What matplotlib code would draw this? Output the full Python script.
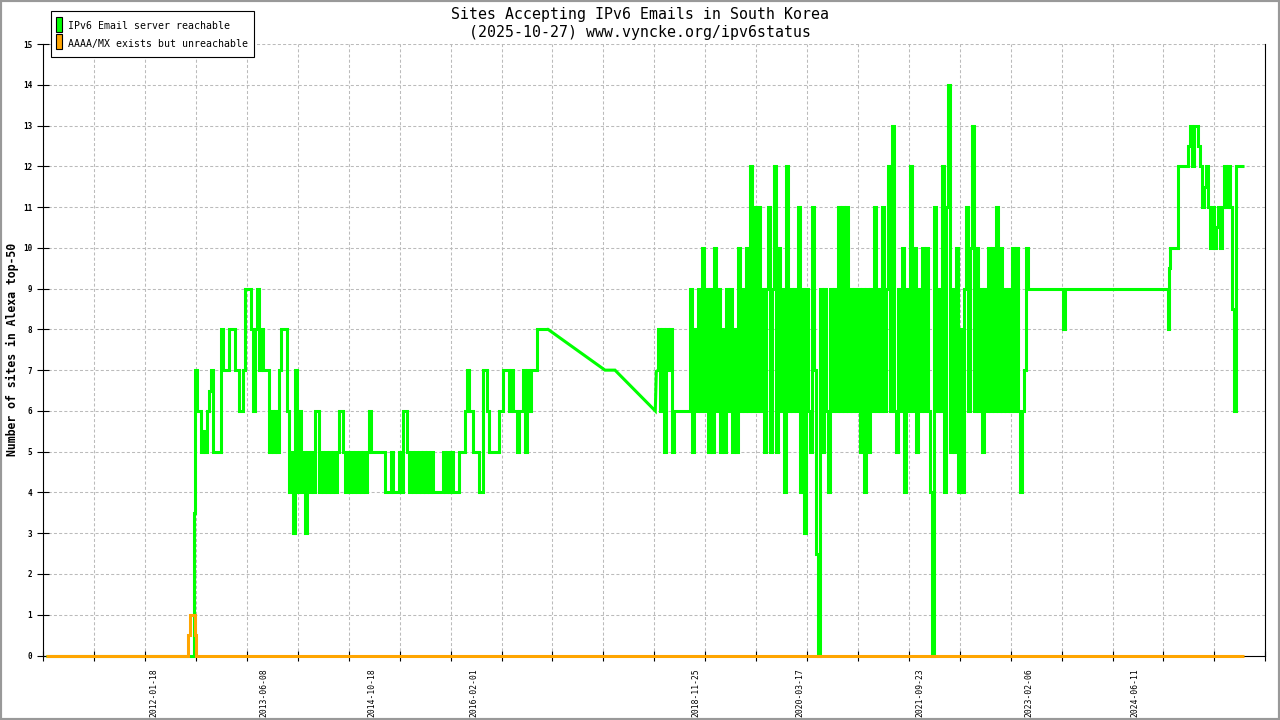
import matplotlib
matplotlib.use("Agg")
import matplotlib.pyplot as plt
import matplotlib.dates as mdates
from matplotlib.patches import Rectangle
import numpy as np
import pandas as pd

plt.rcParams['font.family'] = ['DejaVu Sans Mono']

# ---------------- data ----------------
title_lines = ["Sites Accepting IPv6 Emails in South Korea",
               "(2025-10-27) www.vyncke.org/ipv6status"]
y_label = "Number of sites in Alexa top-50"
legend_labels = ["IPv6 Email server reachable", "AAAA/MX exists but unreachable"]
x_label_dates = ["2012-01-18", "2013-06-08", "2014-10-18", "2016-02-01",
                 "2018-11-25", "2020-03-17", "2021-09-23", "2023-02-06", "2024-06-11"]
y_ticks = list(range(0, 16))
x_range = ["2010-08-24", "2026-02-02"]

green_start_dates = ["2010-09-05", "2012-07-17", "2012-07-19", "2012-07-23"]
green_start_values = [0, 0, 3.5, 7]

green_2012_span = ["2012-08-02", "2017-01-04"]
green_2012_values = [
    6, 6, 5, 5.5, 5, 6, 6.5, 7, 5, 5,
    5, 5, 8, 7, 7, 7, 8, 8, 8, 7,
    7, 6, 6, 7, 9, 9, 9, 8, 6, 8,
    9, 7, 8, 7, 7, 7, 5, 6, 5, 6,
    5, 7, 8, 8, 8, 6, 4, 5, 3, 7,
    4, 6, 4, 5, 3, 5, 4, 5, 4, 6,
    6, 4, 5, 4, 5, 4, 5, 4, 5, 4,
    5, 6, 6, 5, 4, 5, 4, 5, 4, 5,
    4, 5, 4, 5, 4, 5, 6, 5, 5, 5,
    5, 5, 5, 5, 4, 4, 4, 5, 4, 4,
    4, 5, 4, 6, 6, 5, 4, 5, 4, 5,
    4, 5, 4, 5, 4, 5, 4, 5, 4, 4,
    4, 4, 4, 5, 4, 5, 4, 5, 4, 4,
    4, 5, 5, 5, 6, 7, 6, 6, 5, 5,
    5, 4, 4, 7, 7, 6, 5, 5, 5, 5,
    5, 6, 6, 7, 7, 7, 6, 7, 6, 6,
    5, 6, 6, 7, 5, 7, 6, 7, 7, 7,
    8, 8, 8, 8, 8, 8,
]

green_mid_dates = ["2017-01-09", "2017-09-29", "2017-11-14", "2018-05-19"]
green_mid_values = [8, 7, 7, 6]

green_2018_span = ["2018-05-24", "2023-02-03"]
green_2018_values = [
    7, 8, 6, 8, 5, 8, 7, 8, 5, 6,
    6, 6, 6, 6, 6, 6, 6, 9, 5, 8,
    6, 9, 6, 10, 6, 9, 5, 9, 5, 10,
    6, 9, 5, 8, 5, 9, 6, 9, 5, 8,
    5, 10, 6, 9, 6, 10, 6, 12, 6, 11,
    6, 11, 6, 9, 5, 9, 11, 5, 9, 12,
    5, 10, 6, 9, 4, 12, 6, 9, 6, 9,
    6, 11, 4, 9, 3, 9, 6, 5, 11, 7,
    2.5, 0, 9, 5, 9, 6, 4, 9, 6, 9,
    6, 11, 6, 11, 6, 11, 6, 9, 6, 9,
    6, 9, 5, 9, 4, 9, 5, 9, 6, 11,
    6, 9, 6, 11, 6, 9, 12, 6, 13, 6,
    5, 9, 6, 10, 4, 9, 6, 12, 6, 10,
    5, 9, 6, 10, 6, 10, 6, 4, 0, 11,
    6, 9, 6, 12, 4, 11, 14, 5, 9, 5,
    10, 4, 8, 4, 9, 11, 6, 10, 13, 6,
    10, 6, 9, 5, 9, 6, 10, 6, 10, 6,
    11, 6, 10, 6, 9, 6, 9, 6, 10, 6,
    10, 6, 4, 6, 7, 10, 9,
]

green_2023_dates = ["2023-07-05", "2023-07-14", "2023-07-24", "2024-11-06",
                    "2024-11-11", "2024-11-15", "2024-11-20", "2024-12-22"]
green_2023_values = [9, 8, 9, 9, 8, 9.5, 10, 10]

green_2025_span = ["2024-12-27", "2025-10-27"]
green_2025_values = [
    12, 12, 12, 12, 12, 12.5, 13, 12, 13, 13,
    12.5, 12, 11, 11.5, 12, 11, 10, 11, 10, 10.5,
    11, 10, 11, 12, 11, 12, 11, 8.5, 6, 12,
    12, 12, 12, 12,
]

orange_dates = ["2010-09-05", "2012-06-20", "2012-06-23", "2012-06-29",
                "2012-07-19", "2012-07-23", "2012-07-28", "2025-10-27"]
orange_values = [0, 0, 0.5, 1, 1, 0.5, 0, 0]


# ---------------- build series ----------------
def to_x(idx):
    return np.asarray(pd.DatetimeIndex(idx).to_pydatetime())


def span(s, vals):
    return pd.date_range(s[0], s[1], periods=len(vals))


segA_x = np.concatenate([to_x(pd.to_datetime(green_start_dates)),
                         to_x(span(green_2012_span, green_2012_values))])
segA_y = np.concatenate([green_start_values, green_2012_values]).astype(float)

segB_x = np.concatenate([segA_x[-1:], to_x(pd.to_datetime(green_mid_dates)),
                         to_x(span(green_2018_span, green_2018_values))[:1]])
segB_y = np.concatenate([segA_y[-1:], green_mid_values, green_2018_values[:1]]).astype(float)

segC_x = np.concatenate([to_x(span(green_2018_span, green_2018_values)),
                         to_x(pd.to_datetime(green_2023_dates)),
                         to_x(span(green_2025_span, green_2025_values))])
segC_y = np.concatenate([green_2018_values, green_2023_values, green_2025_values]).astype(float)

orange_x = to_x(pd.to_datetime(orange_dates))

GREEN = "#00FF00"
ORANGE = "#FFA500"

# ---------------- figure ----------------
W, H = 1280, 720
fig = plt.figure(figsize=(W / 100, H / 100), dpi=100)
fig.patch.set_facecolor("white")
ax = fig.add_axes([43.3 / W, (H - 655.5) / H, (1265.3 - 43.3) / W, (655.5 - 44) / H])

line_kw = dict(lw=2.2, solid_joinstyle="miter", solid_capstyle="butt", clip_on=False)
ax.plot(segA_x, segA_y, color=GREEN, drawstyle="steps-post", zorder=3, **line_kw)
ax.plot(segB_x, segB_y, color=GREEN, zorder=3, **line_kw)
ax.plot(segC_x, segC_y, color=GREEN, drawstyle="steps-post", zorder=3, **line_kw)
ax.plot(orange_x, orange_values, color=ORANGE, drawstyle="steps-post", zorder=4, **line_kw)

x0 = mdates.date2num(pd.Timestamp(x_range[0]))
x1 = mdates.date2num(pd.Timestamp(x_range[1]))
ax.set_xlim(x0, x1)
ax.set_ylim(0, 15)

ax.set_xticks(np.linspace(x0, x1, 25))
ax.set_xticks(mdates.date2num(pd.to_datetime(x_label_dates)), minor=True)
ax.set_xticklabels(x_label_dates, minor=True)
ax.tick_params(axis="x", which="major", direction="inout", length=7, width=0.8,
               labelbottom=False, color="black")
ax.tick_params(axis="x", which="minor", length=0, pad=9, labelsize=5.8,
               labelrotation=90)

ax.set_yticks(y_ticks)
ax.tick_params(axis="y", which="major", direction="inout", length=8, width=0.8,
               labelsize=5.5, pad=4)
for lab in ax.get_yticklabels():
    lab.set_fontweight("bold")

grid_kw = dict(color="#BBBBBB", linewidth=0.75, linestyle=(0, (2.9, 2.1)))
ax.grid(True, which="major", axis="both", **grid_kw)
ax.set_axisbelow(True)

for side in ("left", "right", "bottom"):
    ax.spines[side].set_linewidth(0.8)
    ax.spines[side].set_color("black")
ax.spines["top"].set_visible(False)

fig.text(640 / W, 1 - 14 / H, title_lines[0], ha="center", va="center", fontsize=10.7)
fig.text(640 / W, 1 - 32.5 / H, title_lines[1], ha="center", va="center", fontsize=10.7)
fig.text(12 / W, 1 - 349 / H, y_label, rotation=90, ha="center", va="center",
         fontsize=8.3, fontweight="bold")


# ---------------- legend (drawn in figure pixel positions) ----------------
def px_rect(left, top, right, bottom, **kw):
    return Rectangle((left / W, 1 - bottom / H), (right - left) / W, (bottom - top) / H,
                     transform=fig.transFigure, **kw)


fig.add_artist(px_rect(50.7, 10.7, 254.3, 57.0, facecolor="white", edgecolor="black",
                       linewidth=0.8, zorder=20))
legend_colors = [GREEN, ORANGE]
row_tops = [16.7, 34.3]
row_bottoms = [32.3, 49.3]
row_baselines = [29.3, 47.3]
for color, label, top, bottom, base in zip(legend_colors, legend_labels, row_tops,
                                           row_bottoms, row_baselines):
    fig.add_artist(px_rect(56.0, top, 62.3, bottom, facecolor=color, edgecolor="black",
                           linewidth=0.8, zorder=21))
    fig.text(68.3 / W, 1 - base / H, label, ha="left", va="baseline", fontsize=7.1,
             zorder=22)

fig.add_artist(Rectangle((0, 0), 1, 1, transform=fig.transFigure, fill=False,
                         edgecolor="#999999", linewidth=3, zorder=30))

fig.savefig("out.png", dpi=100, facecolor="white")
